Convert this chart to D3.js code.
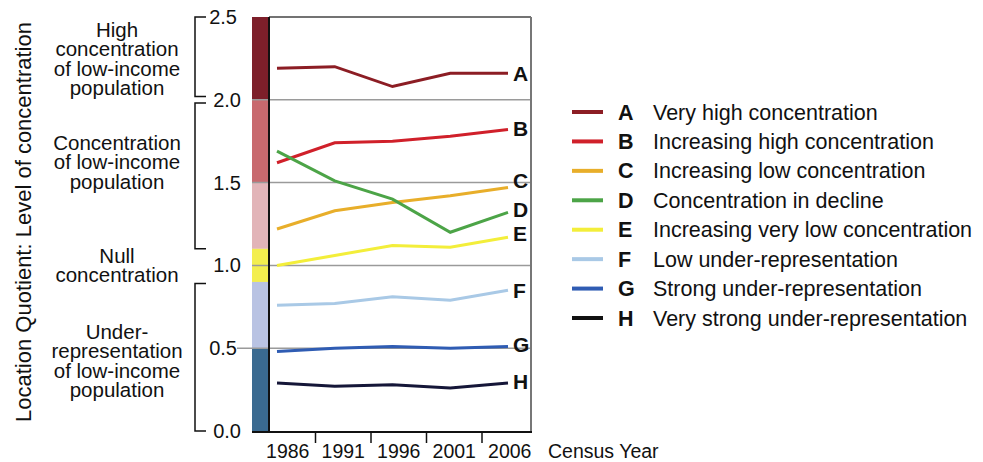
<!DOCTYPE html>
<html lang="en">
<head>
<meta charset="UTF-8"/>
<title>Location Quotient by Census Year</title>
<script src="https://d3js.org/d3.v7.min.js"></script>
<style>
    body { margin: 0; background: #fff; }
    text { font-family: "Liberation Sans", Arial, Helvetica, sans-serif; fill: #111; }
</style>
</head>
<body>
<script>
    // data
    var years = ["1986", "1991", "1996", "2001", "2006"];
    var keys = ["A", "B", "C", "D", "E", "F", "G", "H"];
    var names = [
        "Very high concentration",
        "Increasing high concentration",
        "Increasing low concentration",
        "Concentration in decline",
        "Increasing very low concentration",
        "Low under-representation",
        "Strong under-representation",
        "Very strong under-representation"
    ];
    var valuesA = [2.19, 2.20, 2.08, 2.16, 2.16];
    var valuesB = [1.62, 1.74, 1.75, 1.78, 1.82];
    var valuesC = [1.22, 1.33, 1.38, 1.42, 1.47];
    var valuesD = [1.69, 1.51, 1.40, 1.20, 1.32];
    var valuesE = [1.00, 1.06, 1.12, 1.11, 1.17];
    var valuesF = [0.76, 0.77, 0.81, 0.79, 0.85];
    var valuesG = [0.48, 0.50, 0.51, 0.50, 0.51];
    var valuesH = [0.29, 0.27, 0.28, 0.26, 0.29];
    var yTicks = [0, 0.5, 1.0, 1.5, 2.0, 2.5];
    // colour band: [top, bottom]
    var bandBreaks = [[2.5, 2.0], [2.0, 1.5], [1.5, 1.1], [1.1, 0.9], [0.9, 0.5], [0.5, 0]];
    var brackets = [[2.5, 2.02], [1.98, 1.10], [0.89, 0]];
    var groupLabels = [
        ["High", "concentration", "of low-income", "population"],
        ["Concentration", "of low-income", "population"],
        ["Null", "concentration"],
        ["Under-", "representation", "of low-income", "population"]
    ];

    var series = [valuesA, valuesB, valuesC, valuesD, valuesE, valuesF, valuesG, valuesH];
    var lineColors = ["#8c1d24", "#d0202a", "#e8ae2a", "#4ca447", "#f3ee3a", "#a9c9e6", "#2f5cb3", "#151638"];
    var legendColors = ["#8c1d24", "#d0202a", "#e8ae2a", "#4ca447", "#f3ee3a", "#a9c9e6", "#2f5cb3", "#111111"];
    var bandColors = ["#7d1f2a", "#c8696e", "#e2b4b8", "#f3ee4e", "#b9c3e3", "#3a6a90"];

    var w = 983, h = 462;
    var bandLeft = 252, plotLeft = 269, plotRight = 531;

    var svg = d3.select("body").append("svg")
        .attr("width", w)
        .attr("height", h);

    var yScale = d3.scaleLinear().domain([0, 2.5]).range([431, 17]);
    var xScale = d3.scalePoint().domain(years).range([277, 508]);
    var xBand = d3.scaleBand().domain(years).range([260, 537.5]);

    // colour band on the left of the plot
    svg.selectAll("rect.band")
        .data(bandBreaks)
        .enter()
        .append("rect")
        .attr("class", "band")
        .attr("x", bandLeft)
        .attr("width", plotLeft - bandLeft)
        .attr("y", function (d) { return yScale(d[0]); })
        .attr("height", function (d) { return yScale(d[1]) - yScale(d[0]); })
        .attr("fill", function (d, i) { return bandColors[i]; });

    // horizontal grey lines
    svg.selectAll("line.grid")
        .data([2.0, 1.5, 1.0, 0.5])
        .enter()
        .append("line")
        .attr("class", "grid")
        .attr("x1", function (d) { return d == 0.5 ? 237 : bandLeft; })
        .attr("x2", plotRight)
        .attr("y1", function (d) { return yScale(d); })
        .attr("y2", function (d) { return yScale(d); })
        .attr("stroke", "#9a9a9a")
        .attr("stroke-width", 1.5);

    // frame
    svg.append("line").attr("x1", plotLeft).attr("x2", plotRight)
        .attr("y1", yScale(2.5)).attr("y2", yScale(2.5))
        .attr("stroke", "#444").attr("stroke-width", 1.5);
    svg.append("line").attr("x1", plotRight).attr("x2", plotRight)
        .attr("y1", yScale(2.5)).attr("y2", yScale(0) + 1)
        .attr("stroke", "#777").attr("stroke-width", 2);
    svg.append("line").attr("x1", plotLeft).attr("x2", plotLeft)
        .attr("y1", yScale(2.5)).attr("y2", yScale(0) + 1)
        .attr("stroke", "#111").attr("stroke-width", 2);
    svg.append("line").attr("x1", bandLeft).attr("x2", plotRight + 1)
        .attr("y1", yScale(0) + 1).attr("y2", yScale(0) + 1)
        .attr("stroke", "#111").attr("stroke-width", 2);

    // y axis tick labels
    var yAxis = d3.axisLeft(yScale)
        .tickValues(yTicks)
        .tickSize(0)
        .tickPadding(0)
        .tickFormat(d3.format(".1f"));

    var yG = svg.append("g")
        .attr("transform", "translate(241,0)")
        .call(yAxis);
    yG.select(".domain").remove();
    yG.selectAll("text")
        .attr("font-size", "20px")
        .attr("fill", "#111")
        .attr("dx", function (d) { return d == 2.5 || d == 0.5 ? -4 : 0; });

    // brackets
    svg.selectAll("path.bracket")
        .data(brackets)
        .enter()
        .append("path")
        .attr("class", "bracket")
        .attr("d", function (d) {
            return "M206," + yScale(d[0]) + "H195V" + yScale(d[1]) + "H206";
        })
        .attr("fill", "none")
        .attr("stroke", "#111")
        .attr("stroke-width", 1.5);

    // group labels
    var groupTop = [37, 150, 263, 339];
    groupLabels.forEach(function (lines, gi) {
        svg.append("g").selectAll("text")
            .data(lines)
            .enter()
            .append("text")
            .attr("x", 117)
            .attr("y", function (d, i) { return groupTop[gi] + i * 19.3; })
            .attr("text-anchor", "middle")
            .attr("font-size", "20.5px")
            .text(function (d) { return d; });
    });

    // y axis title
    svg.append("text")
        .attr("transform", "translate(31,222) rotate(-90)")
        .attr("text-anchor", "middle")
        .attr("font-size", "22px")
        .text("Location Quotient: Level of concentration");

    // x axis
    svg.selectAll("line.xtick")
        .data(years.slice(1))
        .enter()
        .append("line")
        .attr("class", "xtick")
        .attr("x1", function (d) { return xBand(d); })
        .attr("x2", function (d) { return xBand(d); })
        .attr("y1", yScale(0) + 1)
        .attr("y2", yScale(0) + 12)
        .attr("stroke", "#111")
        .attr("stroke-width", 1.5);

    svg.selectAll("text.xlabel")
        .data(years)
        .enter()
        .append("text")
        .attr("class", "xlabel")
        .attr("x", function (d) { return xBand(d) + xBand.bandwidth() / 2; })
        .attr("y", 458)
        .attr("text-anchor", "middle")
        .attr("font-size", "19.5px")
        .text(function (d) { return d; });

    svg.append("text")
        .attr("x", 548)
        .attr("y", 458)
        .attr("font-size", "19.5px")
        .text("Census Year");

    // lines
    var line = d3.line()
        .x(function (d, i) { return xScale(years[i]); })
        .y(function (d) { return yScale(d); });

    svg.selectAll("path.series")
        .data(series)
        .enter()
        .append("path")
        .attr("class", "series")
        .attr("d", line)
        .attr("fill", "none")
        .attr("stroke", function (d, i) { return lineColors[i]; })
        .attr("stroke-width", 3);

    // letters at line ends
    var nudge = [0, -1, -7, -3, -4, 0, -2, -1];
    svg.selectAll("text.endlabel")
        .data(series)
        .enter()
        .append("text")
        .attr("class", "endlabel")
        .attr("x", 513)
        .attr("y", function (d, i) { return yScale(d[d.length - 1]) + 7.5 + nudge[i]; })
        .attr("font-size", "21px")
        .attr("font-weight", "bold")
        .text(function (d, i) { return keys[i]; });

    // legend
    var legend = svg.append("g");
    var rowY = d3.scalePoint().domain(keys).range([112, 318]);

    legend.selectAll("line")
        .data(keys)
        .enter()
        .append("line")
        .attr("x1", 572)
        .attr("x2", 603)
        .attr("y1", function (d) { return rowY(d); })
        .attr("y2", function (d) { return rowY(d); })
        .attr("stroke", function (d, i) { return legendColors[i]; })
        .attr("stroke-width", 4);

    legend.selectAll("text.key")
        .data(keys)
        .enter()
        .append("text")
        .attr("class", "key")
        .attr("x", 618)
        .attr("y", function (d) { return rowY(d) + 7.5; })
        .attr("font-size", "21.5px")
        .attr("font-weight", "bold")
        .text(function (d) { return d; });

    legend.selectAll("text.name")
        .data(keys)
        .enter()
        .append("text")
        .attr("class", "name")
        .attr("x", 653)
        .attr("y", function (d) { return rowY(d) + 7.5; })
        .attr("font-size", "21.5px")
        .text(function (d, i) { return names[i]; });
</script>
</body>
</html>
